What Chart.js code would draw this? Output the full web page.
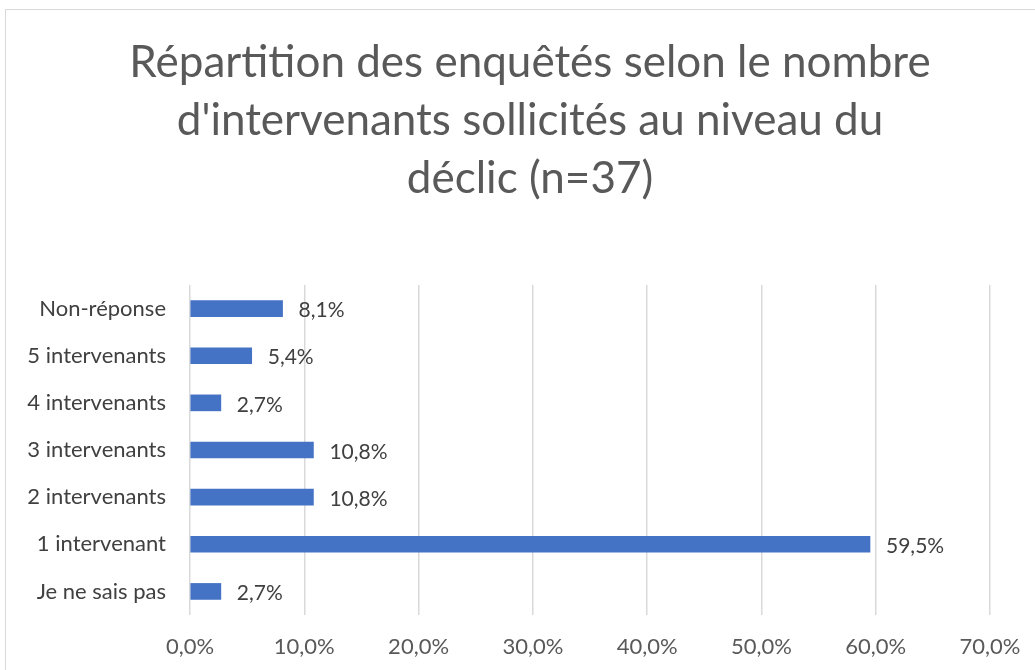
<!DOCTYPE html>
<html>
<head>
<meta charset="utf-8">
<script src="https://cdn.jsdelivr.net/npm/chart.js@4"></script>
<style>
  body { margin: 0; background: #fff; overflow: hidden; }
  #frame { position: absolute; left: 5px; top: 9px; width: 1100px; height: 700px; border: 1px solid #d9d9d9; }
  #wrap { position: absolute; left: 0; top: 0; width: 1035px; height: 670px; }
</style>
</head>
<body>
<div id="frame"></div>
<div id="wrap"><canvas id="chart" width="1035" height="670"></canvas></div>
<script>
const titleLines = [
  "Répartition des enquêtés selon le nombre",
  "d'intervenants sollicités au niveau du",
  "déclic (n=37)"
];
const categories = [
  "Non-réponse",
  "5 intervenants",
  "4 intervenants",
  "3 intervenants",
  "2 intervenants",
  "1 intervenant",
  "Je ne sais pas"
];
const percentages = [8.1, 5.4, 2.7, 10.8, 10.8, 59.5, 2.7];
const xTicks = [0, 10, 20, 30, 40, 50, 60, 70];

const fontFamily = "Lato, 'Open Sans', sans-serif";

function frPercent(v) {
  return v.toFixed(1).replace(".", ",") + "%";
}

// Draw the value next to the end of each bar.
const valueLabels = {
  id: "valueLabels",
  afterDatasetsDraw(chart) {
    const ctx = chart.ctx;
    const meta = chart.getDatasetMeta(0);
    ctx.save();
    ctx.font = "21px " + fontFamily;
    ctx.fillStyle = "#404040";
    ctx.textAlign = "left";
    ctx.textBaseline = "middle";
    meta.data.forEach((bar, i) => {
      ctx.fillText(frPercent(percentages[i]), bar.x + 16, bar.y + 2);
    });
    ctx.restore();
  },
};

// The title is centred a bit right of the plot, like in the original.
const shiftTitle = {
  id: "shiftTitle",
  afterLayout(chart) {
    if (chart.titleBlock) {
      chart.titleBlock.left += 35;
      chart.titleBlock.right += 35;
    }
  },
};

new Chart(document.getElementById("chart").getContext("2d"), {
  type: "bar",
  data: {
    labels: categories,
    datasets: [
      {
        data: percentages,
        backgroundColor: "#4472c4",
        borderWidth: 0,
        barThickness: 16,
      },
    ],
  },
  options: {
    indexAxis: "y",
    responsive: false,
    animation: false,
    layout: { padding: { top: 34, left: 0, right: 45, bottom: 10 } },
    plugins: {
      legend: { display: false },
      tooltip: { enabled: false },
      title: {
        display: true,
        text: titleLines,
        color: "#595959",
        font: { family: fontFamily, size: 44, weight: "normal", lineHeight: "58px" },
        padding: { top: 0, bottom: 77 },
      },
    },
    scales: {
      x: {
        min: 0,
        max: 70,
        afterBuildTicks: (scale) => {
          scale.ticks = xTicks.map((v) => ({ value: v }));
        },
        afterFit: (scale) => {
          scale.height = 45;
          scale.paddingLeft = 0;
          scale.paddingRight = 0;
        },
        grid: { color: "#d9d9d9", lineWidth: 1.5, drawTicks: false },
        border: { display: false },
        ticks: {
          color: "#595959",
          font: { family: fontFamily, size: 22 },
          padding: 19,
          callback: (v) => frPercent(v),
        },
      },
      y: {
        afterFit: (scale) => {
          scale.width = 190;
          scale.paddingTop = 0;
          scale.paddingBottom = 0;
        },
        grid: { display: false, drawTicks: false },
        border: { display: false },
        ticks: {
          color: "#404040",
          font: { family: fontFamily, size: 22 },
          padding: 24,
        },
      },
    },
  },
  plugins: [valueLabels, shiftTitle],
});
</script>
</body>
</html>
